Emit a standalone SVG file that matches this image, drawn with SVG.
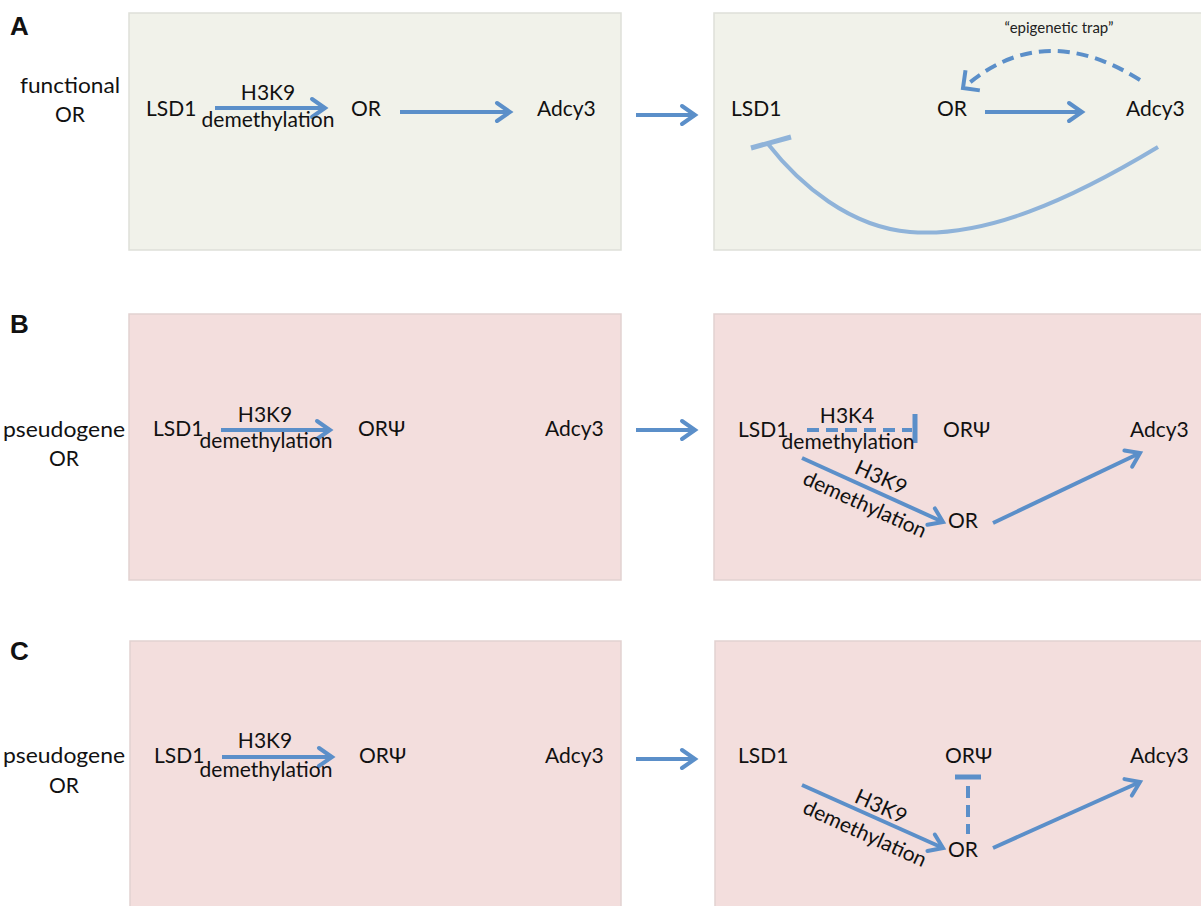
<svg xmlns="http://www.w3.org/2000/svg" width="1201" height="906" viewBox="0 0 1201 906">
<defs>
<style>
.pA{fill:#f1f2ea;stroke:#dedfd9;stroke-width:1.5}
.pR{fill:#f3dedd;stroke:#e2d2d1;stroke-width:1.5}
.t{font-family:Lato,"Liberation Sans",sans-serif;font-size:21px;fill:#111}
.tc{text-anchor:middle}
.lbl{font-family:"Liberation Sans",Arial,sans-serif;font-size:26px;font-weight:bold;fill:#111}
.small{font-family:Lato,"Liberation Sans",sans-serif;font-size:15px;fill:#222;text-anchor:middle}
.a{stroke:#5b8fc9;stroke-width:4;fill:none;marker-end:url(#ah)}
.d{stroke:#5b8fc9;stroke-width:4;fill:none;stroke-dasharray:12 7}
.bar{stroke:#5b8fc9;stroke-width:5;fill:none}
</style>
<marker id="ah" markerUnits="userSpaceOnUse" markerWidth="22" markerHeight="24" refX="16" refY="12" orient="auto" viewBox="0 0 22 24">
<path d="M3,3 L16,12 L3,21" fill="none" stroke="#5b8fc9" stroke-width="4" stroke-linecap="round"/>
</marker>
</defs>
<rect width="1201" height="906" fill="#fff"/>

<g id="panels">
<rect id="panelA1" class="pA" x="129" y="13" width="492" height="237"/>
<rect id="panelA2" class="pA" x="714" y="13" width="490" height="237"/>
<rect id="panelB1" class="pR" x="129" y="314" width="492" height="266"/>
<rect id="panelB2" class="pR" x="714" y="314" width="490" height="266"/>
<rect id="panelC1" class="pR" x="130" y="641" width="491" height="270"/>
<rect id="panelC2" class="pR" x="715" y="641" width="490" height="270"/>
</g>

<g id="labels">
<text class="lbl" x="10" y="35">A</text>
<text class="lbl" x="10" y="333">B</text>
<text class="lbl" x="10" y="660">C</text>
<text class="t tc" x="70" y="93" textLength="100" lengthAdjust="spacingAndGlyphs">functional</text>
<text class="t tc" x="70" y="122">OR</text>
<text class="t tc" x="64" y="437" textLength="122" lengthAdjust="spacingAndGlyphs">pseudogene</text>
<text class="t tc" x="64" y="466">OR</text>
<text class="t tc" x="64" y="763" textLength="122" lengthAdjust="spacingAndGlyphs">pseudogene</text>
<text class="t tc" x="64" y="793">OR</text>
</g>

<!-- Panel A left -->
<g id="A1-LSD1"><text class="t" x="146" y="116">LSD1</text></g>
<g id="A1-OR"><text class="t" x="351" y="116">OR</text></g>
<g id="A1-Adcy3"><text class="t" x="537" y="116">Adcy3</text></g>
<!-- Panel A right -->
<g id="A2-LSD1"><text class="t" x="731" y="116">LSD1</text></g>
<g id="A2-OR"><text class="t" x="937" y="116">OR</text></g>
<g id="A2-Adcy3"><text class="t" x="1126" y="116">Adcy3</text></g>
<!-- Panel B left -->
<g id="B1-LSD1"><text class="t" x="153" y="436">LSD1</text></g>
<g id="B1-ORpsi"><text class="t" x="358" y="436">ORΨ</text></g>
<g id="B1-Adcy3"><text class="t" x="545" y="436">Adcy3</text></g>
<!-- Panel B right -->
<g id="B2-LSD1"><text class="t" x="738" y="437">LSD1</text></g>
<g id="B2-ORpsi"><text class="t" x="943" y="437">ORΨ</text></g>
<g id="B2-Adcy3"><text class="t" x="1130" y="437">Adcy3</text></g>
<g id="B2-OR"><text class="t" x="948" y="528">OR</text></g>
<!-- Panel C left -->
<g id="C1-LSD1"><text class="t" x="154" y="763">LSD1</text></g>
<g id="C1-ORpsi"><text class="t" x="359" y="763">ORΨ</text></g>
<g id="C1-Adcy3"><text class="t" x="545" y="763">Adcy3</text></g>
<!-- Panel C right -->
<g id="C2-LSD1"><text class="t" x="738" y="763">LSD1</text></g>
<g id="C2-ORpsi"><text class="t" x="945" y="763">ORΨ</text></g>
<g id="C2-Adcy3"><text class="t" x="1130" y="763">Adcy3</text></g>
<g id="C2-OR"><text class="t" x="948" y="857">OR</text></g>

<g id="connectors">
<!-- A left -->
<line class="a" x1="215" y1="108" x2="325" y2="108"/>
<text class="t tc" x="268" y="100">H3K9</text>
<text class="t tc" x="268" y="127">demethylation</text>
<line class="a" x1="400" y1="112" x2="510" y2="112"/>
<!-- between panels -->
<line class="a" x1="636" y1="115" x2="695" y2="115"/>
<line class="a" x1="636" y1="430" x2="695" y2="430"/>
<line class="a" x1="636" y1="759" x2="695" y2="759"/>
<!-- A right -->
<line class="a" x1="985" y1="112" x2="1082" y2="112"/>
<path class="d" d="M1140,80 Q1045,20 968,84"/>
<path d="M963,70 L963,88 L980,88" fill="none" stroke="#5b8fc9" stroke-width="4" transform="rotate(8 963 88)"/>
<text class="small" x="1059" y="33">“epigenetic trap”</text>
<path d="M1158,147 C1070,200 985,238 910,232 C850,227 800,185 768,144" fill="none" stroke="#8fb3d9" stroke-width="4"/>
<line x1="751" y1="148" x2="791" y2="137" stroke="#8fb3d9" stroke-width="5"/>
<!-- B left -->
<line class="a" x1="221" y1="430" x2="330" y2="430"/>
<text class="t tc" x="265" y="422">H3K9</text>
<text class="t tc" x="266" y="448">demethylation</text>
<!-- B right -->
<line class="d" x1="807" y1="430" x2="912" y2="430"/>
<line class="bar" x1="915" y1="414" x2="915" y2="443"/>
<text class="t tc" x="847" y="423">H3K4</text>
<text class="t tc" x="848" y="449">demethylation</text>
<line class="a" x1="802" y1="458" x2="943" y2="522"/>
<text class="t tc" transform="translate(878,484) rotate(24.4)">H3K9</text>
<text class="t tc" transform="translate(862,511) rotate(24.4)">demethylation</text>
<line class="a" x1="993" y1="523" x2="1140" y2="453"/>
<!-- C left -->
<line class="a" x1="222" y1="757" x2="332" y2="757"/>
<text class="t tc" x="265" y="748">H3K9</text>
<text class="t tc" x="266" y="777">demethylation</text>
<!-- C right -->
<line class="a" x1="802" y1="785" x2="943" y2="848"/>
<text class="t tc" transform="translate(878,813) rotate(24.4)">H3K9</text>
<text class="t tc" transform="translate(862,840) rotate(24.4)">demethylation</text>
<line class="bar" x1="955" y1="777" x2="981" y2="777"/>
<line class="d" x1="968" y1="786" x2="968" y2="834"/>
<line class="a" x1="993" y1="848" x2="1140" y2="782"/>
</g>
</svg>
